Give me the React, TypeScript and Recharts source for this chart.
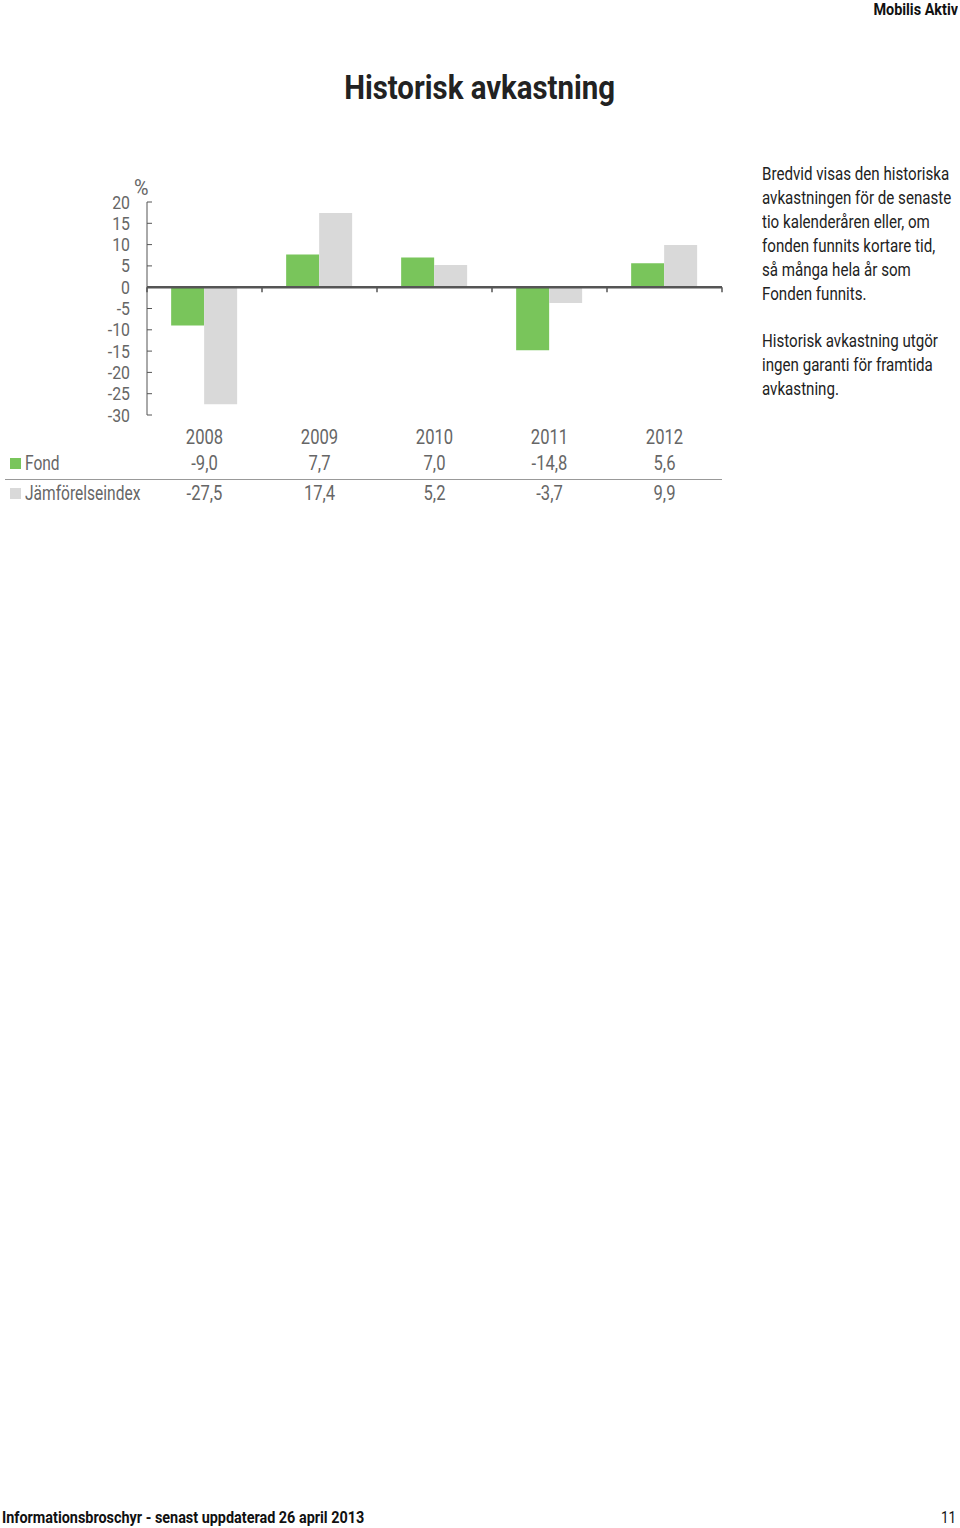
import React from 'react';
import { BarChart, Bar, XAxis, YAxis, ReferenceLine } from 'recharts';

const years = ['2008', '2009', '2010', '2011', '2012'];
const fond = [-9.0, 7.7, 7.0, -14.8, 5.6];
const index = [-27.5, 17.4, 5.2, -3.7, 9.9];
const yTicks = [20, 15, 10, 5, 0, -5, -10, -15, -20, -25, -30];

const data = years.map((year, i) => ({ year, fond: fond[i], index: index[i] }));

const FONT = 'Roboto, "Liberation Sans", sans-serif';
const GREEN = '#79c55b';
const GREY = '#d9d9d9';
const AXIS = '#555';
const LABEL = '#666';

const fmt = (v: number) => v.toFixed(1).replace('.', ',');

// the original uses a condensed sans, so squeeze Roboto horizontally
function CText({ x, y, anchor, size, sx = 0.76, children }: any) {
  return (
    <text
      transform={`translate(${x},${y}) scale(${sx},1)`}
      textAnchor={anchor}
      fontSize={size}
      fill={LABEL}
      fontFamily={FONT}
    >
      {children}
    </text>
  );
}

function Cond({ origin = 'left', sx = 0.84, style, children }: any) {
  return (
    <span
      style={{
        display: 'inline-block',
        whiteSpace: 'nowrap',
        transform: `scaleX(${sx})`,
        transformOrigin: `${origin} top`,
        ...style,
      }}
    >
      {children}
    </span>
  );
}

function YTick(props: any) {
  const { x, y, payload } = props;
  return (
    <g>
      <line x1={x} x2={x + 5} y1={y} y2={y} stroke={AXIS} strokeWidth={1} />
      <CText x={x - 17} y={y + 6.5} anchor="end" size={18} sx={0.88}>{payload.value}</CText>
    </g>
  );
}

function XTick(props: any) {
  const { x, y, payload, index: i } = props;
  return (
    <g>
      <CText x={x} y={y + 29} anchor="middle" size={21} sx={0.79}>{payload.value}</CText>
      <CText x={x} y={y + 55} anchor="middle" size={21} sx={0.79}>{fmt(fond[i])}</CText>
      <CText x={x} y={y + 85} anchor="middle" size={21} sx={0.79}>{fmt(index[i])}</CText>
    </g>
  );
}

function ZeroLine(props: any) {
  const { x1, x2, y1 } = props;
  const step = (x2 - x1) / years.length;
  return (
    <g>
      <line x1={x1} x2={x2} y1={y1} y2={y1} stroke={AXIS} strokeWidth={2.5} />
      {Array.from({ length: years.length + 1 }, (_, k) => (
        <line key={k} x1={x1 + k * step} x2={x1 + k * step} y1={y1} y2={y1 + 5} stroke={AXIS} strokeWidth={1.5} />
      ))}
    </g>
  );
}

const para1 = [
  'Bredvid visas den historiska',
  'avkastningen för de senaste',
  'tio kalenderåren eller, om',
  'fonden funnits kortare tid,',
  'så många hela år som',
  'Fonden funnits.',
];
const para2 = ['Historisk avkastning utgör', 'ingen garanti för framtida', 'avkastning.'];

export default function App() {
  return (
    <div style={{ position: 'absolute', left: 0, top: 0, width: 960, height: 1528, background: '#fff', fontFamily: FONT }}>
      <div style={{ position: 'absolute', right: 2, top: 0, fontSize: 16, fontWeight: 'bold', color: '#111' }}>
        <Cond origin="right" sx={0.9}>Mobilis Aktiv</Cond>
      </div>
      <div style={{ position: 'absolute', left: 0, width: 960, top: 67, textAlign: 'center', fontSize: 34, fontWeight: 'bold', color: '#222' }}>
        <Cond origin="center" sx={0.865}>Historisk avkastning</Cond>
      </div>

      <div style={{ position: 'absolute', left: 0, top: 0 }}>
        <BarChart
          width={960}
          height={520}
          data={data}
          margin={{ top: 202, right: 238, bottom: 5, left: 107 }}
          barCategoryGap="21%"
          barGap={0}
        >
          <YAxis
            domain={[-30, 20]}
            ticks={yTicks}
            interval={0}
            width={40}
            tickSize={0}
            tickMargin={0}
            axisLine={{ stroke: AXIS, strokeWidth: 1 }}
            tickLine={false}
            tick={<YTick />}
          />
          <XAxis
            dataKey="year"
            height={100}
            axisLine={false}
            tickLine={false}
            tickSize={0}
            tickMargin={0}
            interval={0}
            tick={<XTick />}
          />
          <Bar dataKey="fond" fill={GREEN} isAnimationActive={false} />
          <Bar dataKey="index" fill={GREY} isAnimationActive={false} />
          <ReferenceLine y={0} shape={<ZeroLine />} />
        </BarChart>
      </div>

      <div style={{ position: 'absolute', left: 134, top: 175, fontSize: 22, color: LABEL }}>
        <Cond sx={0.9}>%</Cond>
      </div>

      <div style={{ position: 'absolute', left: 10, top: 458, width: 11, height: 11, background: GREEN }} />
      <div style={{ position: 'absolute', left: 25, top: 451, fontSize: 21, color: LABEL }}>
        <Cond sx={0.74}>Fond</Cond>
      </div>
      <div style={{ position: 'absolute', left: 5, top: 479, width: 717, height: 1, background: '#999' }} />
      <div style={{ position: 'absolute', left: 10, top: 488, width: 11, height: 11, background: GREY }} />
      <div style={{ position: 'absolute', left: 25, top: 481, fontSize: 21, color: LABEL }}>
        <Cond sx={0.74}>Jämförelseindex</Cond>
      </div>

      <div style={{ position: 'absolute', left: 762, top: 162, fontSize: 18, lineHeight: '24px', color: '#222' }}>
        {para1.map((l) => (
          <div key={l}><Cond>{l}</Cond></div>
        ))}
        <div style={{ height: 23 }} />
        {para2.map((l) => (
          <div key={l}><Cond>{l}</Cond></div>
        ))}
      </div>

      <div style={{ position: 'absolute', left: 2, top: 1508, fontSize: 16, fontWeight: 'bold', color: '#111' }}>
        <Cond sx={0.9}>Informationsbroschyr - senast uppdaterad 26 april 2013</Cond>
      </div>
      <div style={{ position: 'absolute', right: 4, top: 1508, fontSize: 16, color: '#111' }}>
        <Cond origin="right">11</Cond>
      </div>
    </div>
  );
}
